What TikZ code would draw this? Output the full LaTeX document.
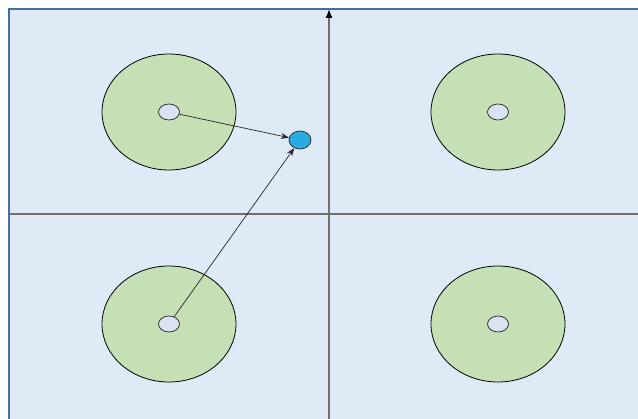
\documentclass[tikz,border=0pt]{standalone}
\usepackage{xcolor}
\usepackage{tikz}
\usetikzlibrary{shapes.geometric,arrows.meta}
\definecolor{paneblue}{HTML}{DEEBF7}
\definecolor{paneedge}{HTML}{41719C}
\definecolor{zonegreen}{HTML}{C5E0B4}
\definecolor{holeblue}{HTML}{DAE3F3}
\definecolor{targetblue}{HTML}{29ABE2}
\definecolor{axisgray}{HTML}{6F6F6F}

\begin{document}
\begin{tikzpicture}[
    x=1pt, y=-1pt,
    zone/.style={ellipse, draw=black, fill=zonegreen, line width=0.8pt, minimum width=134pt, minimum height=116pt, inner sep=0pt},
    hole/.style={ellipse, draw=black!80, fill=holeblue, line width=0.8pt, minimum width=21pt, minimum height=16pt, inner sep=0pt},
    target/.style={ellipse, draw=black!80, fill=targetblue, line width=0.8pt, minimum width=22pt, minimum height=18pt, inner sep=0pt},
    axis/.style={axisgray, line width=1.3pt},
    arrow/.style={-{Stealth[length=8pt,width=6pt]}, black!85, line width=0.7pt}
]
    \useasboundingbox (0,0) rectangle (638,419);
    % pane
    \draw[paneedge, fill=paneblue, line width=1.3pt] (9,440) -- (9,9) -- (660,9);
    \fill[paneblue] (10,10) rectangle (638,419);

    % axes
    \coordinate (xl) at (9,214);
    \coordinate (xr) at (638,214);
    \coordinate (yb) at (329,419);
    \coordinate (yt) at (329,9);
    \draw[axis] (xl) -- (xr);
    \draw[axis, -{Latex[length=9pt,width=7pt,black]}] (yb) -- (yt);

    % zones
    \node[zone] (tl) at (169,112) {};
    \node[zone] (tr) at (498,112) {};
    \node[zone] (bl) at (169,324) {};
    \node[zone] (br) at (498,324) {};

    \node[hole] (htl) at (169,112) {};
    \node[hole] (htr) at (498,112) {};
    \node[hole] (hbl) at (169,324) {};
    \node[hole] (hbr) at (498,324) {};

    \node[target] (dot) at (300,140) {};

    \draw[arrow] (htl) -- (dot);
    \draw[arrow] (hbl) -- (dot);
\end{tikzpicture}
\end{document}
